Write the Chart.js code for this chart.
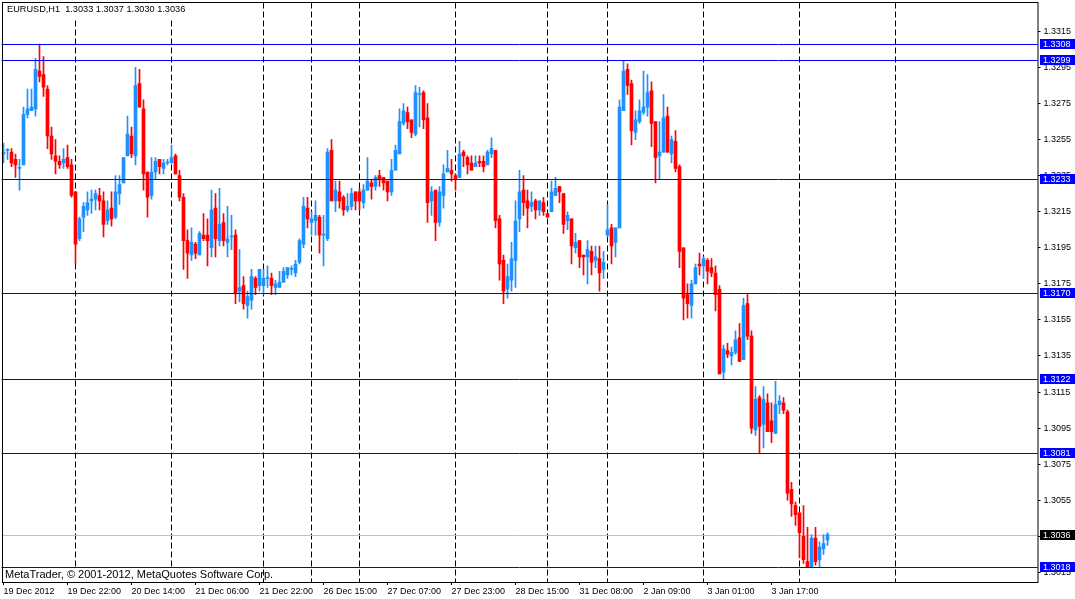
<!DOCTYPE html>
<html>
<head>
<meta charset="utf-8">
<title>EURUSD,H1</title>
<script src="https://cdn.jsdelivr.net/npm/chart.js@4.4.1/dist/chart.umd.min.js"></script>
<style>
  html, body { margin: 0; padding: 0; background: #fff; }
  canvas { display: block; }
</style>
</head>
<body>
<canvas id="eurusdChart" width="1075" height="599"></canvas>
<script>
const symbolTitle = 'EURUSD,H1  1.3033 1.3037 1.3030 1.3036';
const copyrightText = 'MetaTrader, \u00A9 2001-2012, MetaQuotes Software Corp.';

// time axis: one label every 16 hourly bars, starting at bar 0
const timeLabels = [
  '19 Dec 2012', '19 Dec 22:00', '20 Dec 14:00', '21 Dec 06:00', '21 Dec 22:00',
  '26 Dec 15:00', '27 Dec 07:00', '27 Dec 23:00', '28 Dec 15:00', '31 Dec 08:00',
  '2 Jan 09:00', '3 Jan 01:00', '3 Jan 17:00'
];
const labelEvery = 16;
const totalSlots = 259; // bar slots on screen, the right part is still empty

// first bar of every trading day (period separators)
const dayStarts = [18, 42, 65, 77, 89, 113, 136, 151, 175, 199, 223];

const opens = [
  1.3247, 1.3249, 1.3248, 1.3244, 1.3239, 1.3241, 1.3269, 1.3271, 1.3272, 1.3293,
  1.3291, 1.3283, 1.3257, 1.3246, 1.3243, 1.3242, 1.3245, 1.3241, 1.3226, 1.3200,
  1.3212, 1.3216, 1.3221, 1.3222, 1.3224, 1.3221, 1.3210, 1.3217, 1.3212, 1.3225,
  1.3231, 1.3246, 1.3257, 1.3246, 1.3286, 1.3272, 1.3237, 1.3224, 1.3237, 1.3244,
  1.3239, 1.3242, 1.3242, 1.3246, 1.3235, 1.3223, 1.3199, 1.3191, 1.3197, 1.3191,
  1.3202, 1.3202, 1.3195, 1.3217, 1.3199, 1.3209, 1.3198, 1.3201, 1.3202, 1.3171,
  1.3174, 1.3163, 1.3166, 1.3178, 1.3174, 1.3174, 1.3178, 1.3178, 1.3173, 1.3173,
  1.3176, 1.3180, 1.3183, 1.3181, 1.3187, 1.3197, 1.3217, 1.3209, 1.3210, 1.3212,
  1.3202, 1.3200, 1.3249, 1.3221, 1.3226, 1.3223, 1.3216, 1.3218, 1.3226, 1.3226,
  1.3220, 1.3227, 1.3231, 1.3229, 1.3235, 1.3234, 1.3232, 1.3226, 1.3238, 1.3247,
  1.3264, 1.3270, 1.3266, 1.3258, 1.3280, 1.3281, 1.3267, 1.3221, 1.3227, 1.3209,
  1.3224, 1.3237, 1.3238, 1.3235, 1.3234, 1.3248, 1.3245, 1.3242, 1.3240, 1.3243,
  1.3243, 1.3241, 1.3247, 1.3249, 1.3211, 1.3188, 1.3172, 1.3177, 1.3188, 1.3211,
  1.3227, 1.3221, 1.3218, 1.3221, 1.3216, 1.3220, 1.3214, 1.3215, 1.3224, 1.3229,
  1.3225, 1.3210, 1.3211, 1.3195, 1.3199, 1.3191, 1.3190, 1.3193, 1.3188, 1.3189,
  1.3183, 1.3202, 1.3206, 1.3198, 1.3206, 1.3271, 1.3294, 1.3286, 1.3259, 1.3265,
  1.3270, 1.3273, 1.3282, 1.3265, 1.3246, 1.3248, 1.3268, 1.3247, 1.3254, 1.3240,
  1.3195, 1.3169, 1.3163, 1.3175, 1.3186, 1.3185, 1.3188, 1.3184, 1.3181, 1.3172,
  1.3126, 1.3138, 1.3135, 1.3137, 1.3145, 1.3133, 1.3164, 1.3146, 1.3094, 1.3112,
  1.3097, 1.3109, 1.3099, 1.3092, 1.3108, 1.3109, 1.3104, 1.3061, 1.3052, 1.3048,
  1.3035, 1.3021, 1.3018, 1.3034, 1.3022, 1.3028, 1.3033
];
const highs = [
  1.3253, 1.3250, 1.3250, 1.3247, 1.3244, 1.3273, 1.3283, 1.3283, 1.3300, 1.3308,
  1.3301, 1.3285, 1.3262, 1.3255, 1.3246, 1.3250, 1.3252, 1.3244, 1.3226, 1.3212,
  1.3220, 1.3226, 1.3227, 1.3227, 1.3228, 1.3226, 1.3221, 1.3226, 1.3235, 1.3235,
  1.3245, 1.3268, 1.3262, 1.3295, 1.3294, 1.3277, 1.3237, 1.3245, 1.3245, 1.3244,
  1.3244, 1.3244, 1.3252, 1.3247, 1.3238, 1.3225, 1.3205, 1.3206, 1.3198, 1.3204,
  1.3214, 1.3211, 1.3227, 1.3225, 1.3228, 1.3214, 1.3218, 1.3213, 1.3205, 1.3194,
  1.3179, 1.3171, 1.3183, 1.3179, 1.3183, 1.3183, 1.3185, 1.3181, 1.3177, 1.3182,
  1.3184, 1.3184, 1.3185, 1.3188, 1.3200, 1.3223, 1.3223, 1.3215, 1.3221, 1.3213,
  1.3213, 1.3250, 1.3255, 1.3232, 1.3232, 1.3224, 1.3225, 1.3228, 1.3226, 1.3228,
  1.3230, 1.3245, 1.3233, 1.3235, 1.3238, 1.3234, 1.3232, 1.3244, 1.3252, 1.3272,
  1.3275, 1.3273, 1.3266, 1.3285, 1.3284, 1.3282, 1.3275, 1.3229, 1.3227, 1.3229,
  1.3241, 1.3249, 1.3244, 1.3236, 1.3254, 1.3249, 1.3246, 1.3246, 1.3246, 1.3246,
  1.3246, 1.3249, 1.3256, 1.3249, 1.3213, 1.3191, 1.3186, 1.3198, 1.3221, 1.3238,
  1.3235, 1.3227, 1.3226, 1.3222, 1.3221, 1.3223, 1.3214, 1.3232, 1.3234, 1.3229,
  1.3225, 1.3215, 1.3211, 1.3203, 1.3199, 1.3191, 1.3199, 1.3196, 1.3196, 1.3196,
  1.3193, 1.3219, 1.3208, 1.3206, 1.3277, 1.3299, 1.3297, 1.3288, 1.3271, 1.3277,
  1.3293, 1.3291, 1.3287, 1.3265, 1.3265, 1.3280, 1.3273, 1.3257, 1.3260, 1.3241,
  1.3195, 1.3175, 1.3177, 1.3186, 1.3192, 1.3190, 1.3189, 1.3189, 1.3185, 1.3174,
  1.3141, 1.3142, 1.3140, 1.3149, 1.3153, 1.3167, 1.3169, 1.3149, 1.3118, 1.3113,
  1.3118, 1.3114, 1.3109, 1.3121, 1.3113, 1.3112, 1.3105, 1.3065, 1.3054, 1.3048,
  1.3052, 1.3040, 1.3036, 1.3040, 1.3032, 1.3036, 1.3037
];
const lows = [
  1.3242, 1.3244, 1.3240, 1.3234, 1.3227, 1.3241, 1.3267, 1.3271, 1.3268, 1.3287,
  1.3279, 1.3250, 1.3244, 1.3236, 1.3239, 1.3239, 1.3239, 1.3223, 1.3186, 1.3199,
  1.3204, 1.3213, 1.3214, 1.3216, 1.3216, 1.3201, 1.3208, 1.3207, 1.3211, 1.3219,
  1.3231, 1.3246, 1.3245, 1.3241, 1.3273, 1.3227, 1.3212, 1.3222, 1.3233, 1.3236,
  1.3236, 1.3241, 1.3242, 1.3236, 1.3221, 1.3183, 1.3178, 1.3188, 1.3189, 1.3191,
  1.3199, 1.3185, 1.3190, 1.3190, 1.3196, 1.3196, 1.3190, 1.3194, 1.3164, 1.3165,
  1.3161, 1.3156, 1.3161, 1.3169, 1.3171, 1.3169, 1.3173, 1.3169, 1.3169, 1.3173,
  1.3176, 1.3178, 1.3180, 1.3179, 1.3186, 1.3195, 1.3206, 1.3202, 1.3202, 1.3192,
  1.3185, 1.3199, 1.3221, 1.3215, 1.3217, 1.3213, 1.3215, 1.3216, 1.3216, 1.3216,
  1.3217, 1.3227, 1.3222, 1.3227, 1.3229, 1.3227, 1.3221, 1.3224, 1.3238, 1.3247,
  1.3263, 1.3261, 1.3256, 1.3257, 1.3262, 1.3261, 1.3209, 1.3213, 1.3199, 1.3207,
  1.3217, 1.3237, 1.3232, 1.3227, 1.3234, 1.3240, 1.3236, 1.3238, 1.3240, 1.3240,
  1.3237, 1.3241, 1.3245, 1.3206, 1.3177, 1.3164, 1.3167, 1.3171, 1.3173, 1.3204,
  1.3213, 1.3206, 1.3215, 1.3211, 1.3213, 1.3213, 1.3212, 1.3215, 1.3224, 1.3220,
  1.3203, 1.3205, 1.3186, 1.3192, 1.3184, 1.3180, 1.3175, 1.3180, 1.3184, 1.3171,
  1.3178, 1.3201, 1.3186, 1.3190, 1.3206, 1.3271, 1.3280, 1.3252, 1.3255, 1.3264,
  1.3269, 1.3268, 1.3251, 1.3231, 1.3233, 1.3248, 1.3248, 1.3242, 1.3237, 1.3184,
  1.3155, 1.3156, 1.3156, 1.3175, 1.3180, 1.3178, 1.3175, 1.3179, 1.3160, 1.3125,
  1.3122, 1.3134, 1.3130, 1.3136, 1.3132, 1.3133, 1.3144, 1.3092, 1.3091, 1.3081,
  1.3084, 1.3093, 1.3087, 1.3092, 1.3103, 1.3103, 1.3055, 1.3046, 1.3041, 1.3023,
  1.3020, 1.3018, 1.3018, 1.3019, 1.3018, 1.3025, 1.3030
];
const closes = [
  1.3248, 1.3249, 1.3242, 1.3241, 1.3239, 1.3269, 1.3272, 1.3273, 1.3294, 1.3290,
  1.3284, 1.3257, 1.3247, 1.3243, 1.3241, 1.3244, 1.3240, 1.3224, 1.3197, 1.3211,
  1.3218, 1.3220, 1.3222, 1.3225, 1.3221, 1.3208, 1.3216, 1.3211, 1.3226, 1.3230,
  1.3245, 1.3258, 1.3247, 1.3285, 1.3273, 1.3236, 1.3223, 1.3237, 1.3243, 1.3240,
  1.3242, 1.3242, 1.3245, 1.3236, 1.3223, 1.3199, 1.3192, 1.3198, 1.3192, 1.3203,
  1.3200, 1.3199, 1.3216, 1.3200, 1.3208, 1.3199, 1.3200, 1.3201, 1.3170, 1.3173,
  1.3164, 1.3168, 1.3179, 1.3173, 1.3183, 1.3178, 1.3178, 1.3174, 1.3175, 1.3176,
  1.3182, 1.3184, 1.3183, 1.3186, 1.3199, 1.3218, 1.3211, 1.3211, 1.3213, 1.3202,
  1.3202, 1.3248, 1.3221, 1.3227, 1.3221, 1.3216, 1.3218, 1.3225, 1.3221, 1.3221,
  1.3227, 1.3232, 1.3229, 1.3234, 1.3233, 1.3231, 1.3226, 1.3238, 1.3249, 1.3265,
  1.3271, 1.3265, 1.3259, 1.3281, 1.3280, 1.3266, 1.3220, 1.3226, 1.3209, 1.3226,
  1.3236, 1.3239, 1.3236, 1.3233, 1.3247, 1.3246, 1.3241, 1.3238, 1.3242, 1.3242,
  1.3240, 1.3248, 1.3250, 1.3210, 1.3186, 1.3171, 1.3179, 1.3189, 1.3210, 1.3226,
  1.3220, 1.3217, 1.3220, 1.3216, 1.3221, 1.3215, 1.3212, 1.3226, 1.3228, 1.3226,
  1.3208, 1.3213, 1.3196, 1.3198, 1.3190, 1.3190, 1.3194, 1.3187, 1.3190, 1.3181,
  1.3187, 1.3205, 1.3196, 1.3206, 1.3273, 1.3293, 1.3285, 1.3260, 1.3266, 1.3271,
  1.3273, 1.3281, 1.3264, 1.3245, 1.3248, 1.3267, 1.3248, 1.3255, 1.3239, 1.3193,
  1.3167, 1.3164, 1.3175, 1.3184, 1.3185, 1.3189, 1.3182, 1.3181, 1.3169, 1.3125,
  1.3139, 1.3136, 1.3137, 1.3144, 1.3132, 1.3163, 1.3146, 1.3095, 1.3111, 1.3096,
  1.3111, 1.3093, 1.3093, 1.3108, 1.3110, 1.3105, 1.3059, 1.3053, 1.3047, 1.3037,
  1.3022, 1.3018, 1.3034, 1.3021, 1.3029, 1.3031, 1.3036
];

// price scale labels
const priceTicks = [
  1.3315, 1.3295, 1.3275, 1.3255, 1.3235, 1.3215, 1.3195, 1.3175,
  1.3155, 1.3135, 1.3115, 1.3095, 1.3075, 1.3055, 1.3035, 1.3015
];
// horizontal lines drawn on the chart
const levels = [1.3308, 1.3299, 1.3233, 1.3170, 1.3122, 1.3081, 1.3018];
const bidPrice = 1.3036;

const BULL = '#1E90FF';
const BEAR = '#FF0000';
const LEVEL_COLOR = '#0000FF';
const FONT = 'Liberation Sans, Arial, sans-serif';

const slotLabels = [];
for (let i = 0; i < totalSlots; i++) {
  const k = i / labelEvery;
  slotLabels.push(i % labelEvery === 0 && timeLabels[k] ? timeLabels[k] : '');
}
const candleColors = closes.map((c, i) => (c >= opens[i] ? BULL : BEAR));

function crisp(v) {
  return Math.round(v) + 0.5;
}

function priceBox(ctx, y, text, bg) {
  const row = Math.round(y);
  ctx.fillStyle = bg;
  ctx.fillRect(1040, row - 5, 35, 10);
  ctx.fillStyle = '#fff';
  ctx.font = '9px ' + FONT;
  ctx.textAlign = 'left';
  ctx.textBaseline = 'middle';
  ctx.fillText(text, 1043, row + 0.5);
}

const terminalLook = {
  id: 'terminalLook',
  beforeDatasetsDraw(chart) {
    const { ctx, chartArea: a, scales: { x, y } } = chart;
    ctx.save();
    ctx.lineWidth = 1;
    // period separators
    ctx.strokeStyle = '#000';
    ctx.setLineDash([6, 3]);
    dayStarts.forEach(idx => {
      const px = Math.floor(x.getPixelForValue(idx)) + 0.5;
      ctx.beginPath();
      ctx.moveTo(px, a.top);
      ctx.lineTo(px, a.bottom);
      ctx.stroke();
    });
    ctx.setLineDash([]);
    // bid line
    const by = crisp(y.getPixelForValue(bidPrice));
    ctx.strokeStyle = '#C0C0C0';
    ctx.beginPath();
    ctx.moveTo(a.left, by);
    ctx.lineTo(a.right, by);
    ctx.stroke();
    ctx.restore();
  },
  afterDatasetsDraw(chart) {
    const { ctx, chartArea: a, scales: { y } } = chart;
    ctx.save();
    ctx.lineWidth = 1;
    ctx.strokeStyle = LEVEL_COLOR;
    levels.forEach(p => {
      const py = crisp(y.getPixelForValue(p));
      ctx.beginPath();
      ctx.moveTo(a.left, py);
      ctx.lineTo(a.right, py);
      ctx.stroke();
    });
    ctx.restore();
  },
  afterDraw(chart) {
    const { ctx, chartArea: a, scales: { y } } = chart;
    ctx.save();
    // title and copyright
    ctx.fillStyle = '#fff';
    ctx.fillRect(3, 3, 186, 15);
    ctx.fillRect(3, 568, 257, 14);
    ctx.fillStyle = '#000';
    ctx.textAlign = 'left';
    ctx.textBaseline = 'middle';
    ctx.font = '9.2px ' + FONT;
    ctx.fillText(symbolTitle, 7, 9.5);
    ctx.font = '11px ' + FONT;
    ctx.fillText(copyrightText, 5, 574.5);
    // frame
    ctx.strokeStyle = '#000';
    ctx.lineWidth = 1;
    ctx.strokeRect(2.5, 2.5, Math.round(a.right) - 2.5 - 0.5 + 0.5, Math.round(a.bottom) - 2.5 + 0.5);
    // price labels of the lines
    levels.forEach(p => priceBox(ctx, y.getPixelForValue(p), p.toFixed(4), LEVEL_COLOR));
    priceBox(ctx, y.getPixelForValue(bidPrice), bidPrice.toFixed(4), '#000');
    ctx.restore();
  }
};

const eurusdChart = new Chart(document.getElementById('eurusdChart').getContext('2d'), {
  type: 'bar',
  data: {
    labels: slotLabels,
    datasets: [
      {
        label: 'shadow',
        data: lows.map((l, i) => [l, highs[i]]),
        backgroundColor: candleColors,
        barThickness: 1,
        grouped: false,
        minBarLength: 1,
        borderWidth: 0,
        order: 2
      },
      {
        label: 'body',
        data: opens.map((o, i) => [o, closes[i]]),
        backgroundColor: candleColors,
        barThickness: 3,
        grouped: false,
        minBarLength: 1,
        borderWidth: 0,
        order: 1
      }
    ]
  },
  options: {
    responsive: false,
    animation: false,
    devicePixelRatio: 1,
    events: [],
    layout: { padding: { left: 1.5, top: 2.5, right: 0, bottom: 0 } },
    plugins: {
      legend: { display: false },
      tooltip: { enabled: false }
    },
    scales: {
      x: {
        type: 'category',
        offset: true,
        border: { display: false },
        grid: { drawOnChartArea: false, offset: false, tickLength: 3, color: '#000' },
        ticks: {
          autoSkip: false,
          maxRotation: 0,
          minRotation: 0,
          align: 'start',
          padding: 1,
          color: '#000',
          font: { family: FONT, size: 9 }
        },
        afterBuildTicks: axis => {
          axis.ticks = axis.ticks.filter(t => slotLabels[t.value] !== '');
        },
        afterFit: axis => {
          axis.height = 17;
          axis.paddingLeft = 0;
          axis.paddingRight = 0;
        }
      },
      y: {
        position: 'right',
        min: 1.3009674,
        max: 1.3331012,
        border: { display: false },
        grid: { drawOnChartArea: false, tickLength: 3, color: '#000' },
        ticks: {
          padding: 3,
          color: '#000',
          font: { family: FONT, size: 9 },
          callback: v => Number(v).toFixed(4)
        },
        afterBuildTicks: axis => {
          axis.ticks = priceTicks.map(v => ({ value: v }));
        },
        afterFit: axis => {
          axis.width = 37.5;
          axis.paddingTop = 0;
          axis.paddingBottom = 0;
        }
      }
    }
  },
  plugins: [terminalLook]
});
</script>
</body>
</html>
